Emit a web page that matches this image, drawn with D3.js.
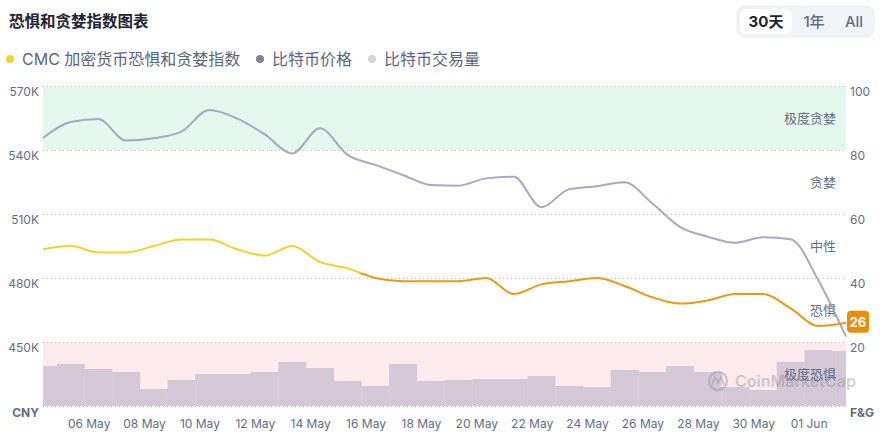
<!DOCTYPE html>
<html><head><meta charset="utf-8">
<script src="https://cdn.jsdelivr.net/npm/d3@7/dist/d3.min.js"></script>
<style>
html,body{margin:0;padding:0;background:#fff;}
svg{display:block;font-family:Inter,"Noto Sans CJK SC",sans-serif;}
</style></head>
<body><svg id="c" width="882" height="434"></svg>
<script>
// ---- data ----
const startDay = [2025, 4, 4]; // 04 May (data points at 08:00 local)
const priceK = [545.6,553.1,554.5,544.4,545.5,548.6,558.7,554.8,547.4,538.4,550.2,537.7,533.0,528.3,523.6,523.3,526.7,527.5,513.2,521.6,523.0,524.9,515.0,504.0,499.4,496.5,499.1,498.2,479.0,452.5];
const fearGreed = [49,50,48,48,50,52,52,49,47,50,45,43,40,39,39,39,40,35,38,39,40,37.5,34,32,33,35,35,30.5,25,26];
const volumeB = [160,168,148,136,68,104,128,128,136,176,152,100,80,168,100,104,108,108,120,80,76,144,136,160,136,76,64,176,224,220];
const priceTicks = [450,480,510,540,570];
const fgTicks = [20,40,60,80,100];
const xTickLabels = ["06 May","08 May","10 May","12 May","14 May","16 May","18 May","20 May","22 May","24 May","26 May","28 May","30 May","01 Jun"];
const zoneLabels = ["极度贪婪","贪婪","中性","恐惧","极度恐惧"];
const zoneCenters = [90,70,50,30,10];
const legendItems = ["CMC 加密货币恐惧和贪婪指数","比特币价格","比特币交易量"];
const rangeButtons = ["30天","1年","All"];

const dates = priceK.map((_,i)=>new Date(startDay[0],startDay[1],startDay[2]+i,8));
const tickDates = xTickLabels.map(s=>{const [d,m]=s.split(" ");return new Date(2025, m==="May"?4:5, +d, 0);});

const svg = d3.select("#c");
const L=43,R=846,T=86,B=406;
const x = d3.scaleTime().domain([dates[0],dates[dates.length-1]]).range([L,R]);
const yP = d3.scaleLinear().domain([420,570]).range([B,T]);
const yF = d3.scaleLinear().domain([0,100]).range([B,T]);
const yV = d3.scaleLinear().domain([0,252]).range([B,343]);

// title
svg.append("text").attr("x",9).attr("y",27).attr("font-size",15.5).attr("font-weight",700)
  .attr("fill","#222531").text("恐惧和贪婪指数图表");

// range buttons
svg.append("rect").attr("x",737).attr("y",6).attr("width",137).attr("height",31).attr("rx",8)
  .attr("fill","#f1f3f6").attr("stroke","#eceef2");
svg.append("rect").attr("x",740).attr("y",9).attr("width",52).attr("height",25).attr("rx",6)
  .attr("fill","#fff");
const btnX=[766,814,854];
rangeButtons.forEach((b,i)=>{
  svg.append("text").attr("x",btnX[i]).attr("y",27).attr("text-anchor","middle")
    .attr("font-size",15).attr("font-weight",i===0?700:500)
    .attr("fill",i===0?"#222531":"#616e85").text(b);
});

// legend
const legColors=["#f3d42f","#7f8596","#d8d5e2"];
const legX=[10,260,372];
legendItems.forEach((t,i)=>{
  svg.append("circle").attr("cx",legX[i]).attr("cy",59).attr("r",4).attr("fill",legColors[i]);
  svg.append("text").attr("x",legX[i]+12).attr("y",65).attr("font-size",16)
    .attr("fill","#58667e").text(t);
});

// bands
svg.append("rect").attr("x",L).attr("y",yF(100)).attr("width",R-L).attr("height",yF(80)-yF(100)).attr("fill","#e5f8ee");
svg.append("rect").attr("x",L).attr("y",yF(20)).attr("width",R-L).attr("height",yF(0)-yF(20)).attr("fill","#fdebee");

// clip
svg.append("clipPath").attr("id","clip").append("rect").attr("x",L).attr("y",T-5).attr("width",R-L).attr("height",B-T+5);

// volume bars
const dayW = x(dates[1])-x(dates[0]);
svg.append("g").attr("clip-path","url(#clip)").selectAll("rect").data(volumeB).join("rect")
  .attr("x",(d,i)=>x(dates[i])-dayW/2).attr("width",dayW+0.3)
  .attr("y",d=>yV(d)).attr("height",d=>B-yV(d)).attr("fill","#d5c9d7");

// grid
[0,20,40,60,80,100].forEach(v=>{
  svg.append("line").attr("x1",L).attr("x2",R).attr("y1",yF(v)+0.5).attr("y2",yF(v)+0.5)
    .attr("stroke","#b9bec8").attr("stroke-dasharray","1,3");
});

// watermark
const wm = svg.append("g").attr("opacity",0.4);
wm.append("circle").attr("cx",718).attr("cy",381).attr("r",9).attr("fill","none").attr("stroke","#8a8f9c").attr("stroke-width",2.5);
wm.append("path").attr("d","M712,385 L715,377 L718,383 L721,377 L724,385").attr("fill","none").attr("stroke","#8a8f9c").attr("stroke-width",2);
wm.append("text").attr("x",735).attr("y",387).attr("font-size",16).attr("font-weight",600).attr("fill","#8a8f9c").text("CoinMarketCap");

// zone labels
zoneLabels.forEach((t,i)=>{
  svg.append("text").attr("x",836).attr("y",yF(zoneCenters[i])+5).attr("text-anchor","end")
    .attr("font-size",13).attr("fill","#616e85").text(t);
});

// price line
svg.append("path").datum(priceK)
  .attr("d",d3.line().x((d,i)=>x(dates[i])).y(d=>yP(d)).curve(d3.curveMonotoneX))
  .attr("fill","none").attr("stroke","#a09fbd").attr("stroke-opacity",0.9).attr("stroke-width",2);

// fear & greed line with colour gradient
const defs = svg.append("defs");
const g = defs.append("linearGradient").attr("id","fgGrad").attr("gradientUnits","userSpaceOnUse")
  .attr("x1",0).attr("x2",0).attr("y1",yF(100)).attr("y2",yF(0));
const th = (yF(41.5)-yF(100))/(yF(0)-yF(100));
g.append("stop").attr("offset",0).attr("stop-color","#f2d22e");
g.append("stop").attr("offset",th).attr("stop-color","#f2d22e");
g.append("stop").attr("offset",th).attr("stop-color","#e89a14");
g.append("stop").attr("offset",1).attr("stop-color","#e89a14");
svg.append("path").datum(fearGreed)
  .attr("d",d3.line().x((d,i)=>x(dates[i])).y(d=>yF(d)).curve(d3.curveMonotoneX))
  .attr("fill","none").attr("stroke","url(#fgGrad)").attr("stroke-width",2);

// left axis labels
priceTicks.forEach(v=>{
  svg.append("text").attr("x",39).attr("y",yP(v)+10).attr("text-anchor","end")
    .attr("font-size",12).attr("fill","#616e85").text(v+"K");
});
svg.append("text").attr("x",39).attr("y",417).attr("text-anchor","end").attr("font-size",12)
  .attr("font-weight",700).attr("fill","#616e85").text("CNY");
// right axis labels
fgTicks.forEach(v=>{
  svg.append("text").attr("x",850).attr("y",yF(v)+10).attr("font-size",12).attr("fill","#616e85").text(v);
});
svg.append("text").attr("x",850).attr("y",417).attr("font-size",12)
  .attr("font-weight",700).attr("fill","#616e85").text("F&G");

// x axis labels
tickDates.forEach((d,i)=>{
  svg.append("text").attr("x",x(d)).attr("y",428).attr("text-anchor","middle")
    .attr("font-size",12).attr("fill","#616e85").text(xTickLabels[i]);
});

// current value badge
const last = fearGreed[fearGreed.length-1];
svg.append("rect").attr("x",847).attr("y",yF(last)-12).attr("width",22).attr("height",22).attr("rx",4).attr("fill","#ec8d07");
svg.append("text").attr("x",858).attr("y",yF(last)+4).attr("text-anchor","middle")
  .attr("font-size",13).attr("font-weight",700).attr("fill","#fff").text(Math.round(last));
</script></body></html>
